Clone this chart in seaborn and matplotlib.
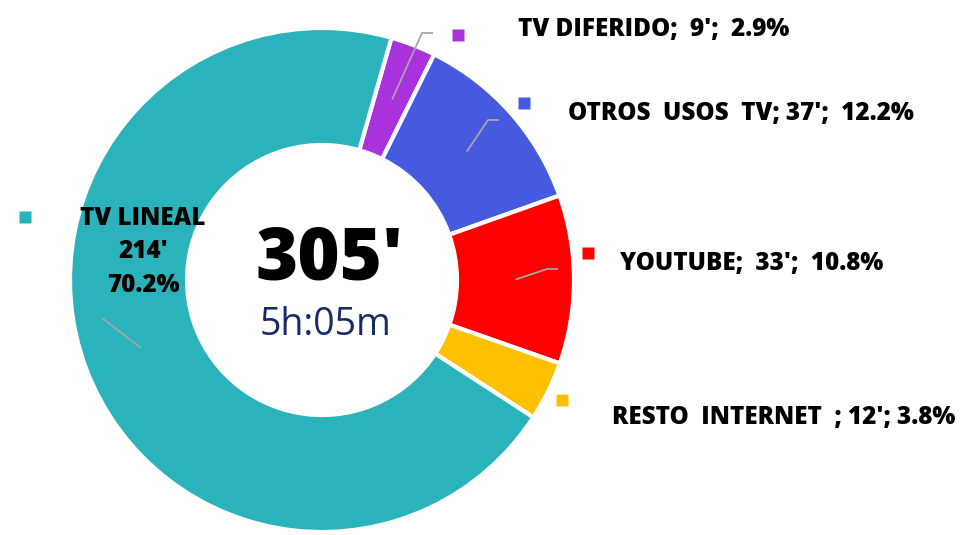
import numpy as np
import matplotlib.pyplot as plt
import seaborn as sns

# data (clockwise from the top)
categories = ['TV DIFERIDO', 'OTROS USOS TV', 'YOUTUBE', 'RESTO INTERNET', 'TV LINEAL']
minutes = [9, 37, 33, 12, 214]
shares = [2.9, 12.2, 10.8, 3.8, 70.2]
label_texts = ["TV DIFERIDO;  9';  2.9%",
               "OTROS  USOS  TV; 37';  12.2%",
               "YOUTUBE;  33';  10.8%",
               "RESTO  INTERNET  ; 12'; 3.8%",
               "TV LINEAL\n214'\n70.2%"]
total_text = "305'"
total_hm = "5h:05m"

colors = ['#A932DD', '#465AE0', '#FF0000', '#FFC000', '#2BB3BB']

sns.set_theme(style='white')
plt.rcParams['font.family'] = ['Open Sans', 'DejaVu Sans']

W, H = 975, 535
fig = plt.figure(figsize=(W / 100, H / 100), dpi=100)
ax = fig.add_axes([0, 0, 1, 1])

def px(x, y):
    return x, H - y

cx, cy = px(322, 280)
r_out, r_in = 252, 135

wedges, _ = ax.pie(shares, colors=colors, startangle=74, counterclock=False,
                   center=(cx, cy), radius=r_out,
                   wedgeprops=dict(width=r_out - r_in, edgecolor='white', linewidth=3))

ax.set_xlim(0, W)
ax.set_ylim(0, H)
ax.set_aspect('equal')
ax.axis('off')

# label layout in pixels: text anchor, marker, leader elbow (or None)
text_pos = [(518, 30), (568, 114), (620, 263), (612, 418), (143, 252)]
marker_pos = [(458, 35), (524, 103), (588, 253), (562, 400), (25, 217)]
elbows = [[(422, 33), (433, 33)], [(488, 120), (499, 120)],
          [(547, 269), (558, 269)], None, [(102, 318)]]

for i, w in enumerate(wedges):
    mid = np.deg2rad((w.theta1 + w.theta2) / 2)
    r_mid = (r_out + r_in) / 2
    sx, sy = cx + r_mid * np.cos(mid), cy + r_mid * np.sin(mid)
    if elbows[i] is not None:
        pts = [(sx, sy)] + [px(*p) for p in elbows[i]]
        ax.plot([p[0] for p in pts], [p[1] for p in pts], color='#A6A6A6', lw=1.3,
                solid_capstyle='butt')
    mx, my = px(*marker_pos[i])
    ax.plot(mx, my, marker='s', ms=8.5, color=colors[i], mec='none')
    tx, ty = px(*text_pos[i])
    if i == 4:
        ax.text(tx, ty, label_texts[i], ha='center', va='center', fontsize=17.5,
                fontweight='heavy', color='black', linespacing=1.45)
    else:
        ax.text(tx, ty, label_texts[i], ha='left', va='center', fontsize=17.5,
                fontweight='heavy', color='black')

ax.text(*px(330, 260), total_text, ha='center', va='center', fontsize=52,
        fontweight='heavy', color='black')
ax.text(*px(326, 325), total_hm, ha='center', va='center', fontsize=27,
        color='#162C68')

fig.savefig('out.png', dpi=100)
